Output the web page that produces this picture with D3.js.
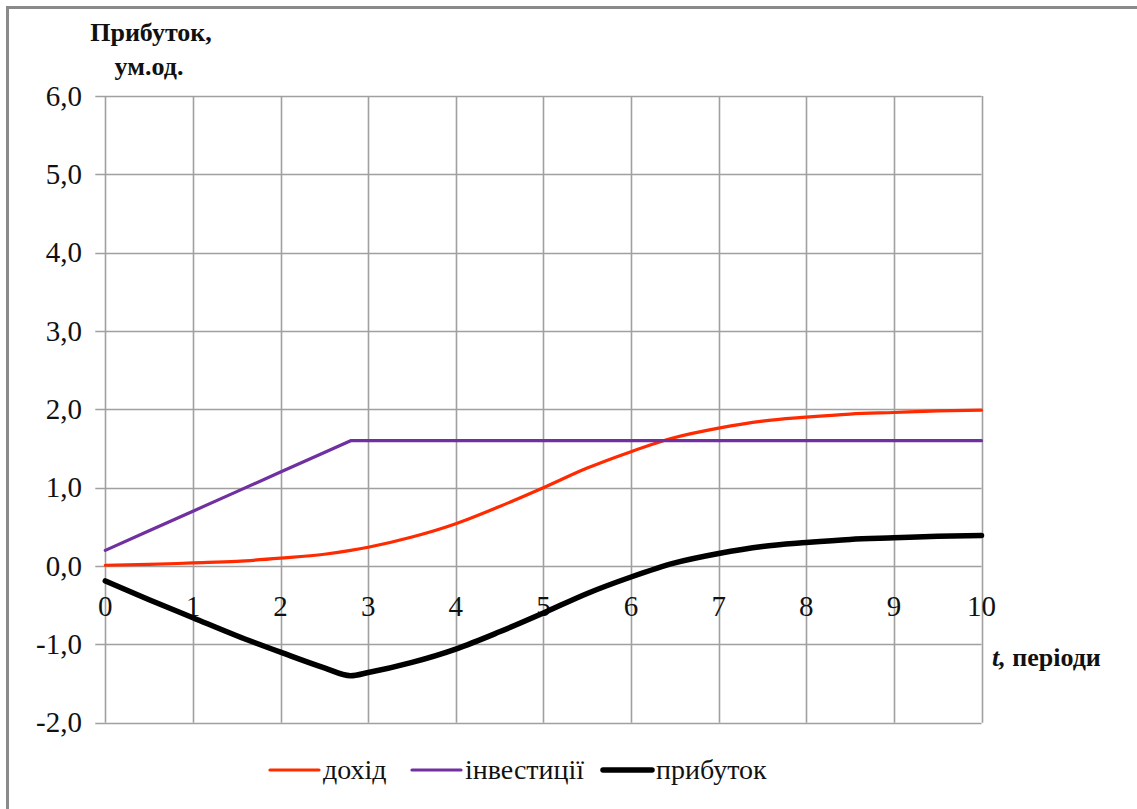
<!DOCTYPE html>
<html>
<head>
<meta charset="utf-8">
<script src="https://cdn.jsdelivr.net/npm/d3@7"></script>
<style>
  html, body { margin: 0; padding: 0; background: #fff; }
</style>
</head>
<body>
<svg id="chart" width="1137" height="809"></svg>
<script>
// Time periods
const periods = [0, 0.5, 1, 1.5, 2, 2.5, 2.8, 3, 3.5, 4, 4.5, 5, 5.5, 6, 6.5, 7, 7.5, 8, 8.5, 9, 9.5, 10];
// Revenue (дохід)
const revenue = [0.01, 0.02, 0.04, 0.06, 0.10, 0.15, 0.20, 0.24, 0.37, 0.54, 0.76, 1.00, 1.25, 1.46, 1.64, 1.76, 1.85, 1.90, 1.94, 1.96, 1.98, 1.99];
// Investment (інвестиції)
const investment = [0.20, 0.45, 0.70, 0.95, 1.20, 1.45, 1.60, 1.60, 1.60, 1.60, 1.60, 1.60, 1.60, 1.60, 1.60, 1.60, 1.60, 1.60, 1.60, 1.60, 1.60, 1.60];
// Profit (прибуток)
const profit = [-0.19, -0.43, -0.66, -0.89, -1.10, -1.30, -1.40, -1.36, -1.23, -1.06, -0.84, -0.60, -0.35, -0.14, 0.04, 0.16, 0.25, 0.30, 0.34, 0.36, 0.38, 0.39];

const xTicks = [0, 1, 2, 3, 4, 5, 6, 7, 8, 9, 10];
const yTicks = [-2, -1, 0, 1, 2, 3, 4, 5, 6];

const seriesNames = ["дохід", "інвестиції", "прибуток"];
const seriesData = [revenue, investment, profit];
const seriesColors = ["#ff2a00", "#7030a0", "#000000"];
const seriesWidths = [3.2, 3.2, 5.5];
const seriesCurves = [d3.curveMonotoneX, d3.curveLinear, d3.curveMonotoneX];

const svg = d3.select("#chart");
const FONT = "Times New Roman";

// frame (top and left edges)
svg.append("line").attr("x1", 7).attr("x2", 1137).attr("y1", 7.5).attr("y2", 7.5)
  .attr("stroke", "#8a8a8a").attr("stroke-width", 3);
svg.append("line").attr("x1", 7.5).attr("x2", 7.5).attr("y1", 6).attr("y2", 809)
  .attr("stroke", "#8a8a8a").attr("stroke-width", 3);

const x = d3.scaleLinear().domain([0, 10]).range([105.3, 981.5]);
const y = d3.scaleLinear().domain([-2, 6]).range([722.7, 96]);

const grid = svg.append("g");
// horizontal grid lines with tick stubs on the left
grid.selectAll("line.h").data(yTicks).join("line")
  .attr("x1", x(0) - 10).attr("x2", x(10))
  .attr("y1", d => Math.round(y(d)) + 0.5).attr("y2", d => Math.round(y(d)) + 0.5)
  .attr("stroke", "#a0a0a0").attr("stroke-width", 1.6);
grid.selectAll("line.v").data(xTicks).join("line")
  .attr("x1", d => Math.round(x(d)) + 0.5).attr("x2", d => Math.round(x(d)) + 0.5)
  .attr("y1", y(6)).attr("y2", y(-2))
  .attr("stroke", "#a0a0a0").attr("stroke-width", 1.6);

// all text shares one serif family inherited from this group
const labels = svg.append("g").attr("font-family", FONT).attr("fill", "#111");

// y tick labels
const fmt = v => d3.format(".1f")(v).replace(".", ",").replace("−", "-");
const yLabelSize = 29;
labels.append("g").selectAll("text").data(yTicks).join("text")
  .attr("x", 82).attr("y", d => y(d) + yLabelSize * 0.33)
  .attr("font-size", yLabelSize).attr("text-anchor", "end")
  .text(fmt);

// x tick labels along the zero line
const xLabelSize = 29;
labels.append("g").selectAll("text").data(xTicks).join("text")
  .attr("x", d => x(d)).attr("y", 606 + xLabelSize * 0.33)
  .attr("font-size", xLabelSize).attr("text-anchor", "middle")
  .text(d => d);

// axis titles
const yTitle = labels.append("text").attr("font-size", 26).attr("font-weight", "bold").attr("text-anchor", "middle");
yTitle.append("tspan").attr("x", 151).attr("y", 41).text("Прибуток,");
yTitle.append("tspan").attr("x", 149).attr("y", 75).text("ум.од.");

const xTitle = labels.append("text").attr("x", 992).attr("y", 666).attr("font-size", 26).attr("font-weight", "bold");
xTitle.append("tspan").attr("font-style", "italic").text("t,");
xTitle.append("tspan").text(" періоди");

// series lines
svg.append("g").selectAll("path").data(seriesData).join("path")
  .attr("d", (d, i) => d3.line().x((v, j) => x(periods[j])).y(v => y(v)).curve(seriesCurves[i])(d))
  .attr("fill", "none")
  .attr("stroke", (d, i) => seriesColors[i])
  .attr("stroke-width", (d, i) => seriesWidths[i])
  .attr("stroke-linejoin", "round")
  .attr("stroke-linecap", "round");

// legend
const legendX = [270, 412, 603];
const legendSize = 28;
const legend = labels.append("g").selectAll("g").data(seriesNames).join("g")
  .attr("transform", (d, i) => `translate(${legendX[i]},770)`);
legend.append("line").attr("x1", 0).attr("x2", 49).attr("y1", 0).attr("y2", 0)
  .attr("stroke", (d, i) => seriesColors[i])
  .attr("stroke-width", (d, i) => seriesWidths[i])
  .attr("stroke-linecap", "round");
legend.append("text").attr("x", 53).attr("y", legendSize * 0.33)
  .attr("font-size", legendSize).text(d => d);
</script>
</body>
</html>
